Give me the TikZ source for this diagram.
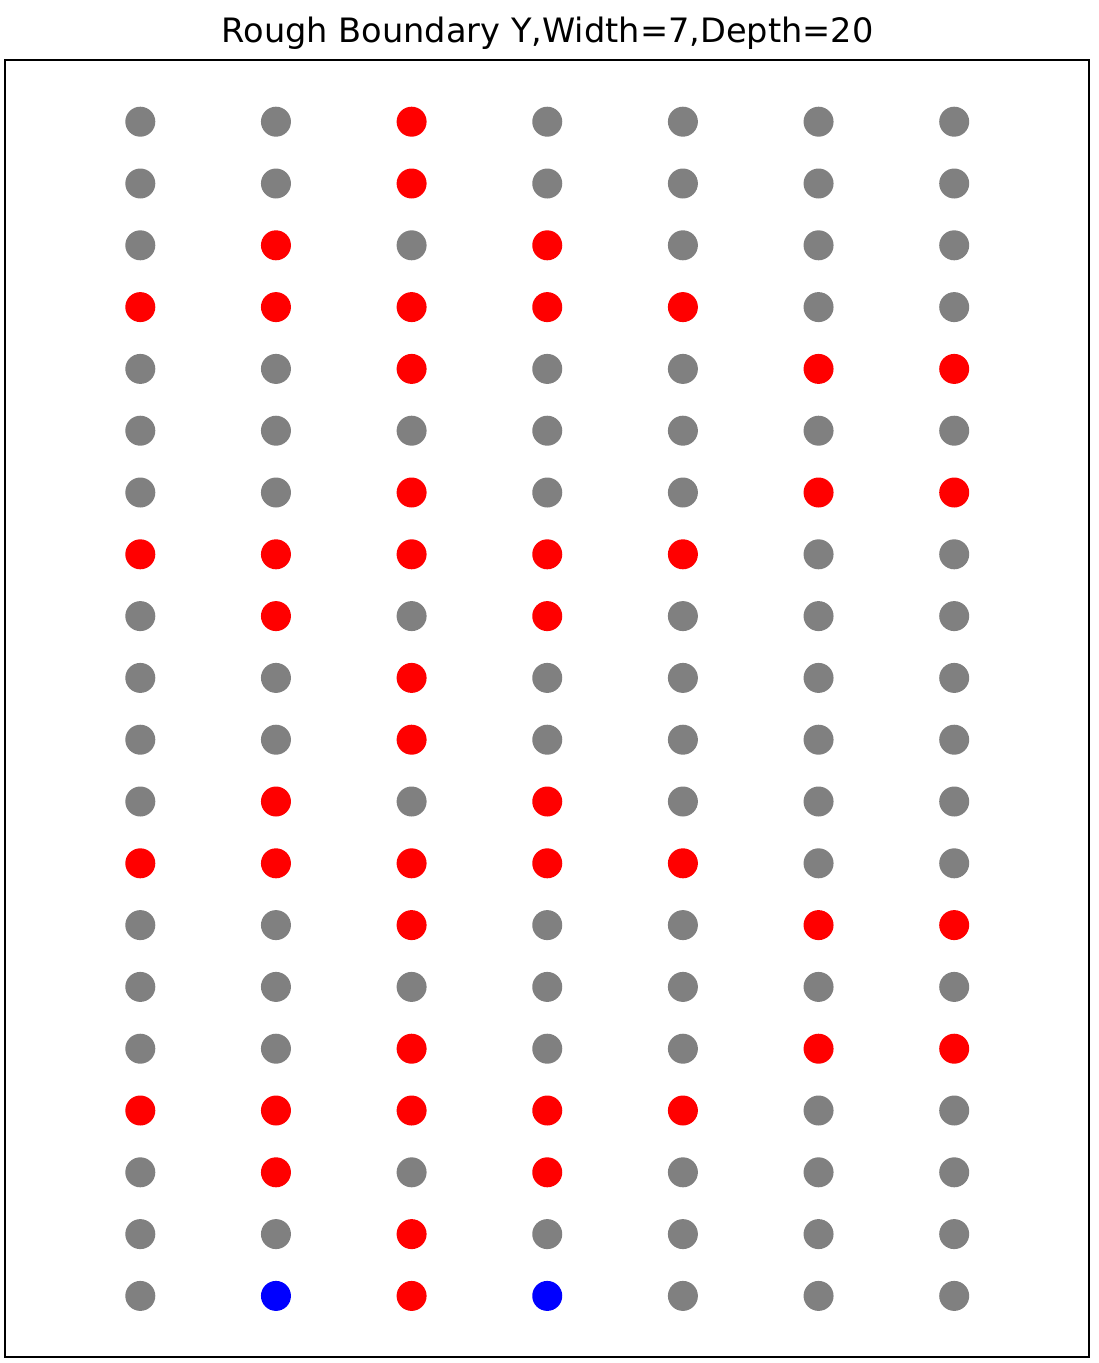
\documentclass[tikz,border=0pt]{standalone}
\usepackage{fontspec}
\setmainfont{DejaVu Sans}
\usepackage{tikz}

\definecolor{mgray}{HTML}{808080}
\definecolor{mred}{HTML}{FF0000}
\definecolor{mblue}{HTML}{0000FF}

\begin{document}
\begin{tikzpicture}[x=1pt, y=-1pt,
    dot/.style = {circle, minimum size=30pt, inner sep=0pt},
    frame/.style = {draw, line width=2pt},
    g/.style = {dot, fill=mgray}, r/.style = {dot, fill=mred}, b/.style = {dot, fill=mblue}]
  \useasboundingbox (0,0) rectangle (1099,1363);
  \node (title) at (547.5,33) {\fontsize{33.6}{40}\selectfont Rough Boundary Y,Width=7,Depth=20};
  \draw[frame] (5,60) rectangle (1089,1357);
  % one line per row, from top to bottom
  \foreach \row/\cols in {
      1/{g,g,r,g,g,g,g}, 2/{g,g,r,g,g,g,g}, 3/{g,r,g,r,g,g,g}, 4/{r,r,r,r,r,g,g},
      5/{g,g,r,g,g,r,r}, 6/{g,g,g,g,g,g,g}, 7/{g,g,r,g,g,r,r}, 8/{r,r,r,r,r,g,g},
      9/{g,r,g,r,g,g,g}, 10/{g,g,r,g,g,g,g}, 11/{g,g,r,g,g,g,g}, 12/{g,r,g,r,g,g,g},
      13/{r,r,r,r,r,g,g}, 14/{g,g,r,g,g,r,r}, 15/{g,g,g,g,g,g,g}, 16/{g,g,r,g,g,r,r},
      17/{r,r,r,r,r,g,g}, 18/{g,r,g,r,g,g,g}, 19/{g,g,r,g,g,g,g}, 20/{g,b,r,b,g,g,g}}
    \foreach \c [count=\col] in \cols
      \node[\c] (d-\row-\col) at ({140.3+135.65*(\col-1)}, {121.7+61.8*(\row-1)}) {};
\end{tikzpicture}
\end{document}
